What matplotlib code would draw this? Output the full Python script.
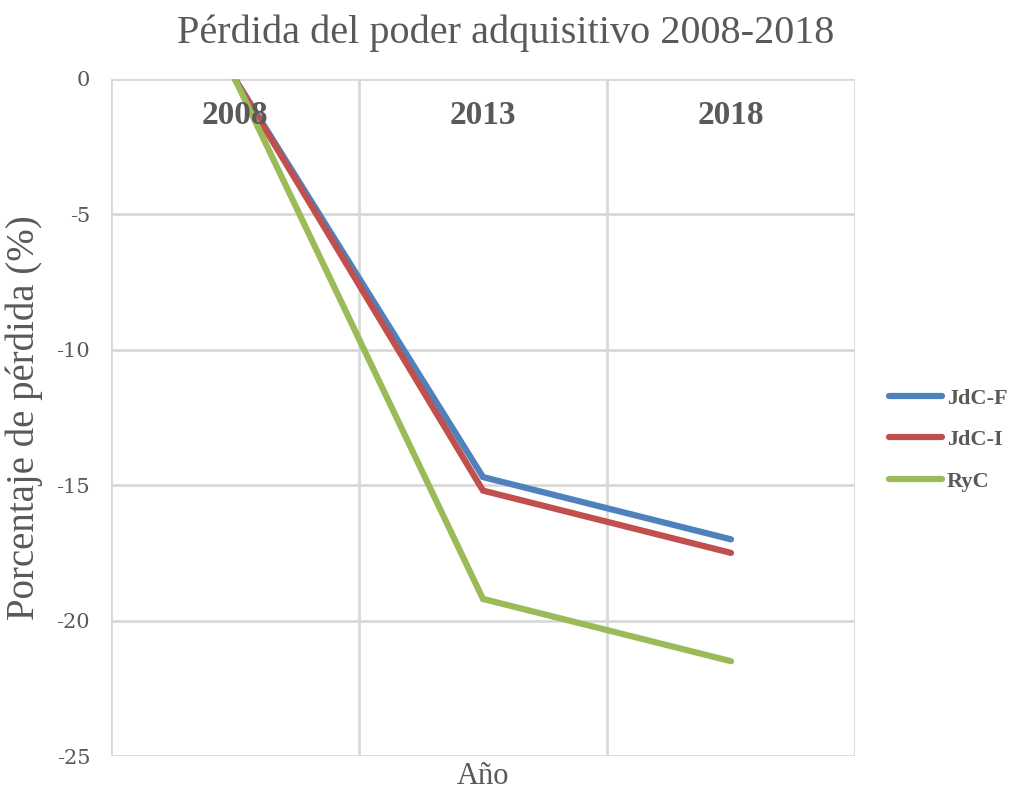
import matplotlib.pyplot as plt

years = ['2008', '2013', '2018']
jdc_f = [0, -14.7, -17.0]
jdc_i = [0, -15.2, -17.5]
ryc = [0, -19.2, -21.5]
series = [('JdC-F', jdc_f, '#4F81BD'), ('JdC-I', jdc_i, '#C0504D'), ('RyC', ryc, '#9BBB59')]
yticks = [0, -5, -10, -15, -20, -25]

plt.rcParams['font.family'] = ['Liberation Serif', 'DejaVu Serif']
txt = '#595959'
grid = '#D9D9D9'

fig = plt.figure(figsize=(10.12, 7.93), dpi=100)
ax = fig.add_axes([111/1012, 1-756/793, (855-111)/1012, (756-79)/793])

x = list(range(len(years)))
for name, vals, col in series:
    ax.plot(x, vals, color=col, lw=4.5, solid_capstyle='round', solid_joinstyle='miter', label=name, zorder=3)

ax.set_xlim(-0.5, len(years) - 0.5)
ax.set_ylim(-25, 0)
ax.set_yticks(yticks)
ax.set_yticklabels([str(v) for v in yticks], fontsize=15, color=txt, family=['DejaVu Serif'])
ax.tick_params(axis='y', length=0, pad=15)
ax.set_xticks([])
for b in [i - 0.5 for i in range(len(years) + 1)]:
    ax.axvline(b, color=grid, lw=2, zorder=1)
for v in yticks:
    ax.axhline(v, color=grid, lw=2, zorder=1)
for s in ax.spines.values():
    s.set_visible(False)

for i, yr in enumerate(years):
    ax.text(i, -1.35, yr, ha='center', va='center', fontsize=24, fontweight='bold', color=txt, zorder=4)

ax.set_ylabel('Porcentaje de pérdida (%)', fontsize=28, color=txt, labelpad=10)
ax.set_xlabel('Año', fontsize=22, color=txt, labelpad=4)
fig.suptitle('Pérdida del poder adquisitivo 2008-2018', fontsize=29, color=txt, y=0.982)

leg = fig.legend(loc='center left', bbox_to_anchor=(880/1012, 1-440/793), frameon=False,
                 handlelength=2.4, labelspacing=0.95, handletextpad=0.2, borderaxespad=0,
                 prop={'size': 16, 'weight': 'bold'})
for t in leg.get_texts():
    t.set_color(txt)

fig.savefig('out.png', dpi=100)
